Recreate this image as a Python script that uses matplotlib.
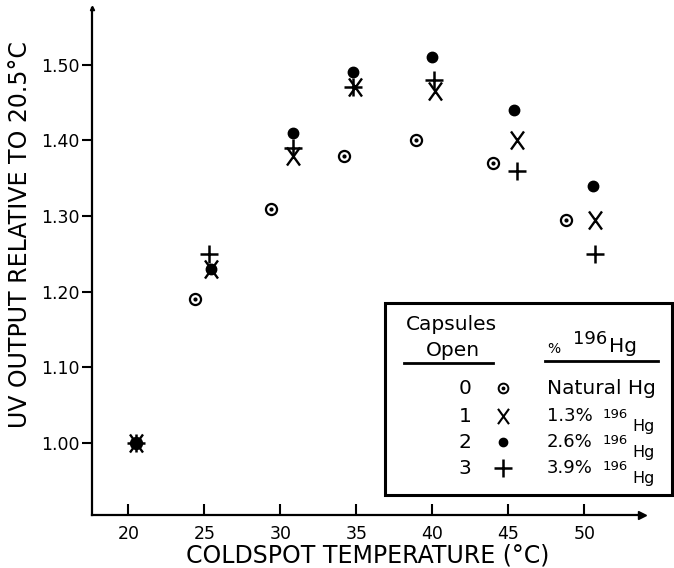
import numpy as np
import matplotlib
matplotlib.use("Agg")
from matplotlib import pyplot as plt
from matplotlib.lines import Line2D
from matplotlib.patches import Rectangle
from matplotlib.path import Path

plt.rcParams['font.family'] = ['DejaVu Sans']

# coldspot temperature (C) and UV output relative to 20.5 C, per capsule count
temp_natural = [20.5, 24.4, 29.4, 34.2, 38.9, 44.0, 48.8]
uv_natural = [1.00, 1.19, 1.31, 1.38, 1.40, 1.37, 1.295]

temp_13 = [20.5, 25.4, 30.8, 34.9, 40.2, 45.6, 50.7]
uv_13 = [1.00, 1.23, 1.38, 1.47, 1.465, 1.40, 1.295]

temp_26 = [20.5, 25.4, 30.8, 34.8, 40.0, 45.4, 50.6]
uv_26 = [1.00, 1.23, 1.41, 1.49, 1.51, 1.44, 1.34]

temp_39 = [20.5, 25.3, 30.8, 34.8, 40.1, 45.6, 50.7]
uv_39 = [1.00, 1.25, 1.39, 1.47, 1.48, 1.36, 1.25]

x_ticks = [20, 25, 30, 35, 40, 45, 50]
y_ticks = [1.00, 1.10, 1.20, 1.30, 1.40, 1.50]

W, H = 674, 568
fig = plt.figure(figsize=(W / 100, H / 100), dpi=100)
ax = fig.add_axes([92 / W, 1 - 515 / H, (642 - 92) / W, (515 - 8) / H])


def fxy(px, py):
    return px / W, 1 - py / H


# tall letter-like X marker
tall_x = Path([(-0.72, -1), (0.72, 1), (-0.72, 1), (0.72, -1)],
              [Path.MOVETO, Path.LINETO, Path.MOVETO, Path.LINETO])

# data
ax.plot(temp_natural, uv_natural, "o", ms=8, mfc="white", mec="black", mew=1.6, ls="none", zorder=3)
ax.plot(temp_natural, uv_natural, "o", ms=2, color="black", ls="none", zorder=4)
ax.plot(temp_13, uv_13, marker=tall_x, ms=13, color="black", mew=1.7, ls="none", zorder=3)
ax.plot(temp_26, uv_26, "o", ms=7.5, color="black", ls="none", zorder=3)
ax.plot(temp_39, uv_39, "+", ms=13, color="black", mew=1.8, ls="none", zorder=3)

ax.set_xlim(17.6, 53.8)
ax.set_ylim(0.905, 1.575)
ax.set_xticks(x_ticks)
ax.set_yticks(y_ticks)
ax.set_yticklabels([f"{v:.2f}" for v in y_ticks])
ax.tick_params(axis="x", direction="in", length=8, width=1.5, labelsize=12.5, pad=7)
ax.tick_params(axis="y", direction="out", length=7, width=1.5, labelsize=12.5, pad=2)
for s in ["top", "right"]:
    ax.spines[s].set_visible(False)
for s in ["left", "bottom"]:
    ax.spines[s].set_linewidth(1.6)
# arrow at end of x axis, small head on y axis
ax.plot([1], [0], ">", ms=6, color="black", transform=ax.transAxes, clip_on=False)
ax.plot([0], [1], "^", ms=3, color="black", transform=ax.transAxes, clip_on=False)

fig.text(*fxy(368, 555), "COLDSPOT TEMPERATURE (°C)", fontsize=17, ha="center", va="center")
fig.text(*fxy(20, 235), "UV OUTPUT RELATIVE TO 20.5°C", rotation=90, fontsize=17,
         ha="center", va="center")

# legend box
x0, y0 = fxy(385, 495)
x1, y1 = fxy(672, 303)
fig.add_artist(Rectangle((x0, y0), x1 - x0, y1 - y0, transform=fig.transFigure,
                         facecolor="white", edgecolor="black", lw=2.2, zorder=10))

fs = 14.5
fig.text(*fxy(451, 325), "Capsules", fontsize=fs, ha="center", va="center", zorder=11)
fig.text(*fxy(453, 350), "Open", fontsize=fs, ha="center", va="center", zorder=11)
fig.add_artist(Line2D([404 / W, 493 / W], [1 - 363 / H] * 2, transform=fig.transFigure,
                      color="black", lw=2, zorder=11))
fig.text(*fxy(547, 349), "%", fontsize=10, ha="left", va="center", zorder=11)
fig.text(*fxy(573, 339), "196", fontsize=13, ha="left", va="center", zorder=11)
fig.text(*fxy(609, 346), "Hg", fontsize=fs, ha="left", va="center", zorder=11)
fig.add_artist(Line2D([545 / W, 658 / W], [1 - 361 / H] * 2, transform=fig.transFigure,
                      color="black", lw=2, zorder=11))

rows = ["0", "1", "2", "3"]
row_y = [388, 416, 442, 468]
row_text = ["Natural Hg", "1.3%", "2.6%", "3.9%"]
marker_styles = [
    dict(marker="o", ms=7, mfc="white", mec="black", mew=1.4),
    dict(marker=tall_x, ms=11, color="black", mew=1.5),
    dict(marker="o", ms=6, color="black"),
    dict(marker="+", ms=13, color="black", mew=1.8),
]
for i, (lab, py, txt, st) in enumerate(zip(rows, row_y, row_text, marker_styles)):
    fig.text(*fxy(465, py), lab, fontsize=fs, ha="center", va="center", zorder=11)
    mx, my = fxy(503, py)
    fig.add_artist(Line2D([mx], [my], transform=fig.transFigure, ls="none", zorder=11, **st))
    if i == 0:
        fig.add_artist(Line2D([mx], [my], transform=fig.transFigure, ls="none", marker="o",
                              ms=1.8, color="black", zorder=12))
        fig.text(*fxy(547, py), txt, fontsize=fs, ha="left", va="center", zorder=11)
    else:
        fig.text(*fxy(547, py), txt, fontsize=13, ha="left", va="center", zorder=11)
        fig.text(*fxy(603, py - 2), "196", fontsize=9.5, ha="left", va="center", zorder=11)
        fig.text(*fxy(632, py + 10), "Hg", fontsize=11.5, ha="left", va="center", zorder=11)

plt.savefig("out.png", dpi=100)
plt.close()
